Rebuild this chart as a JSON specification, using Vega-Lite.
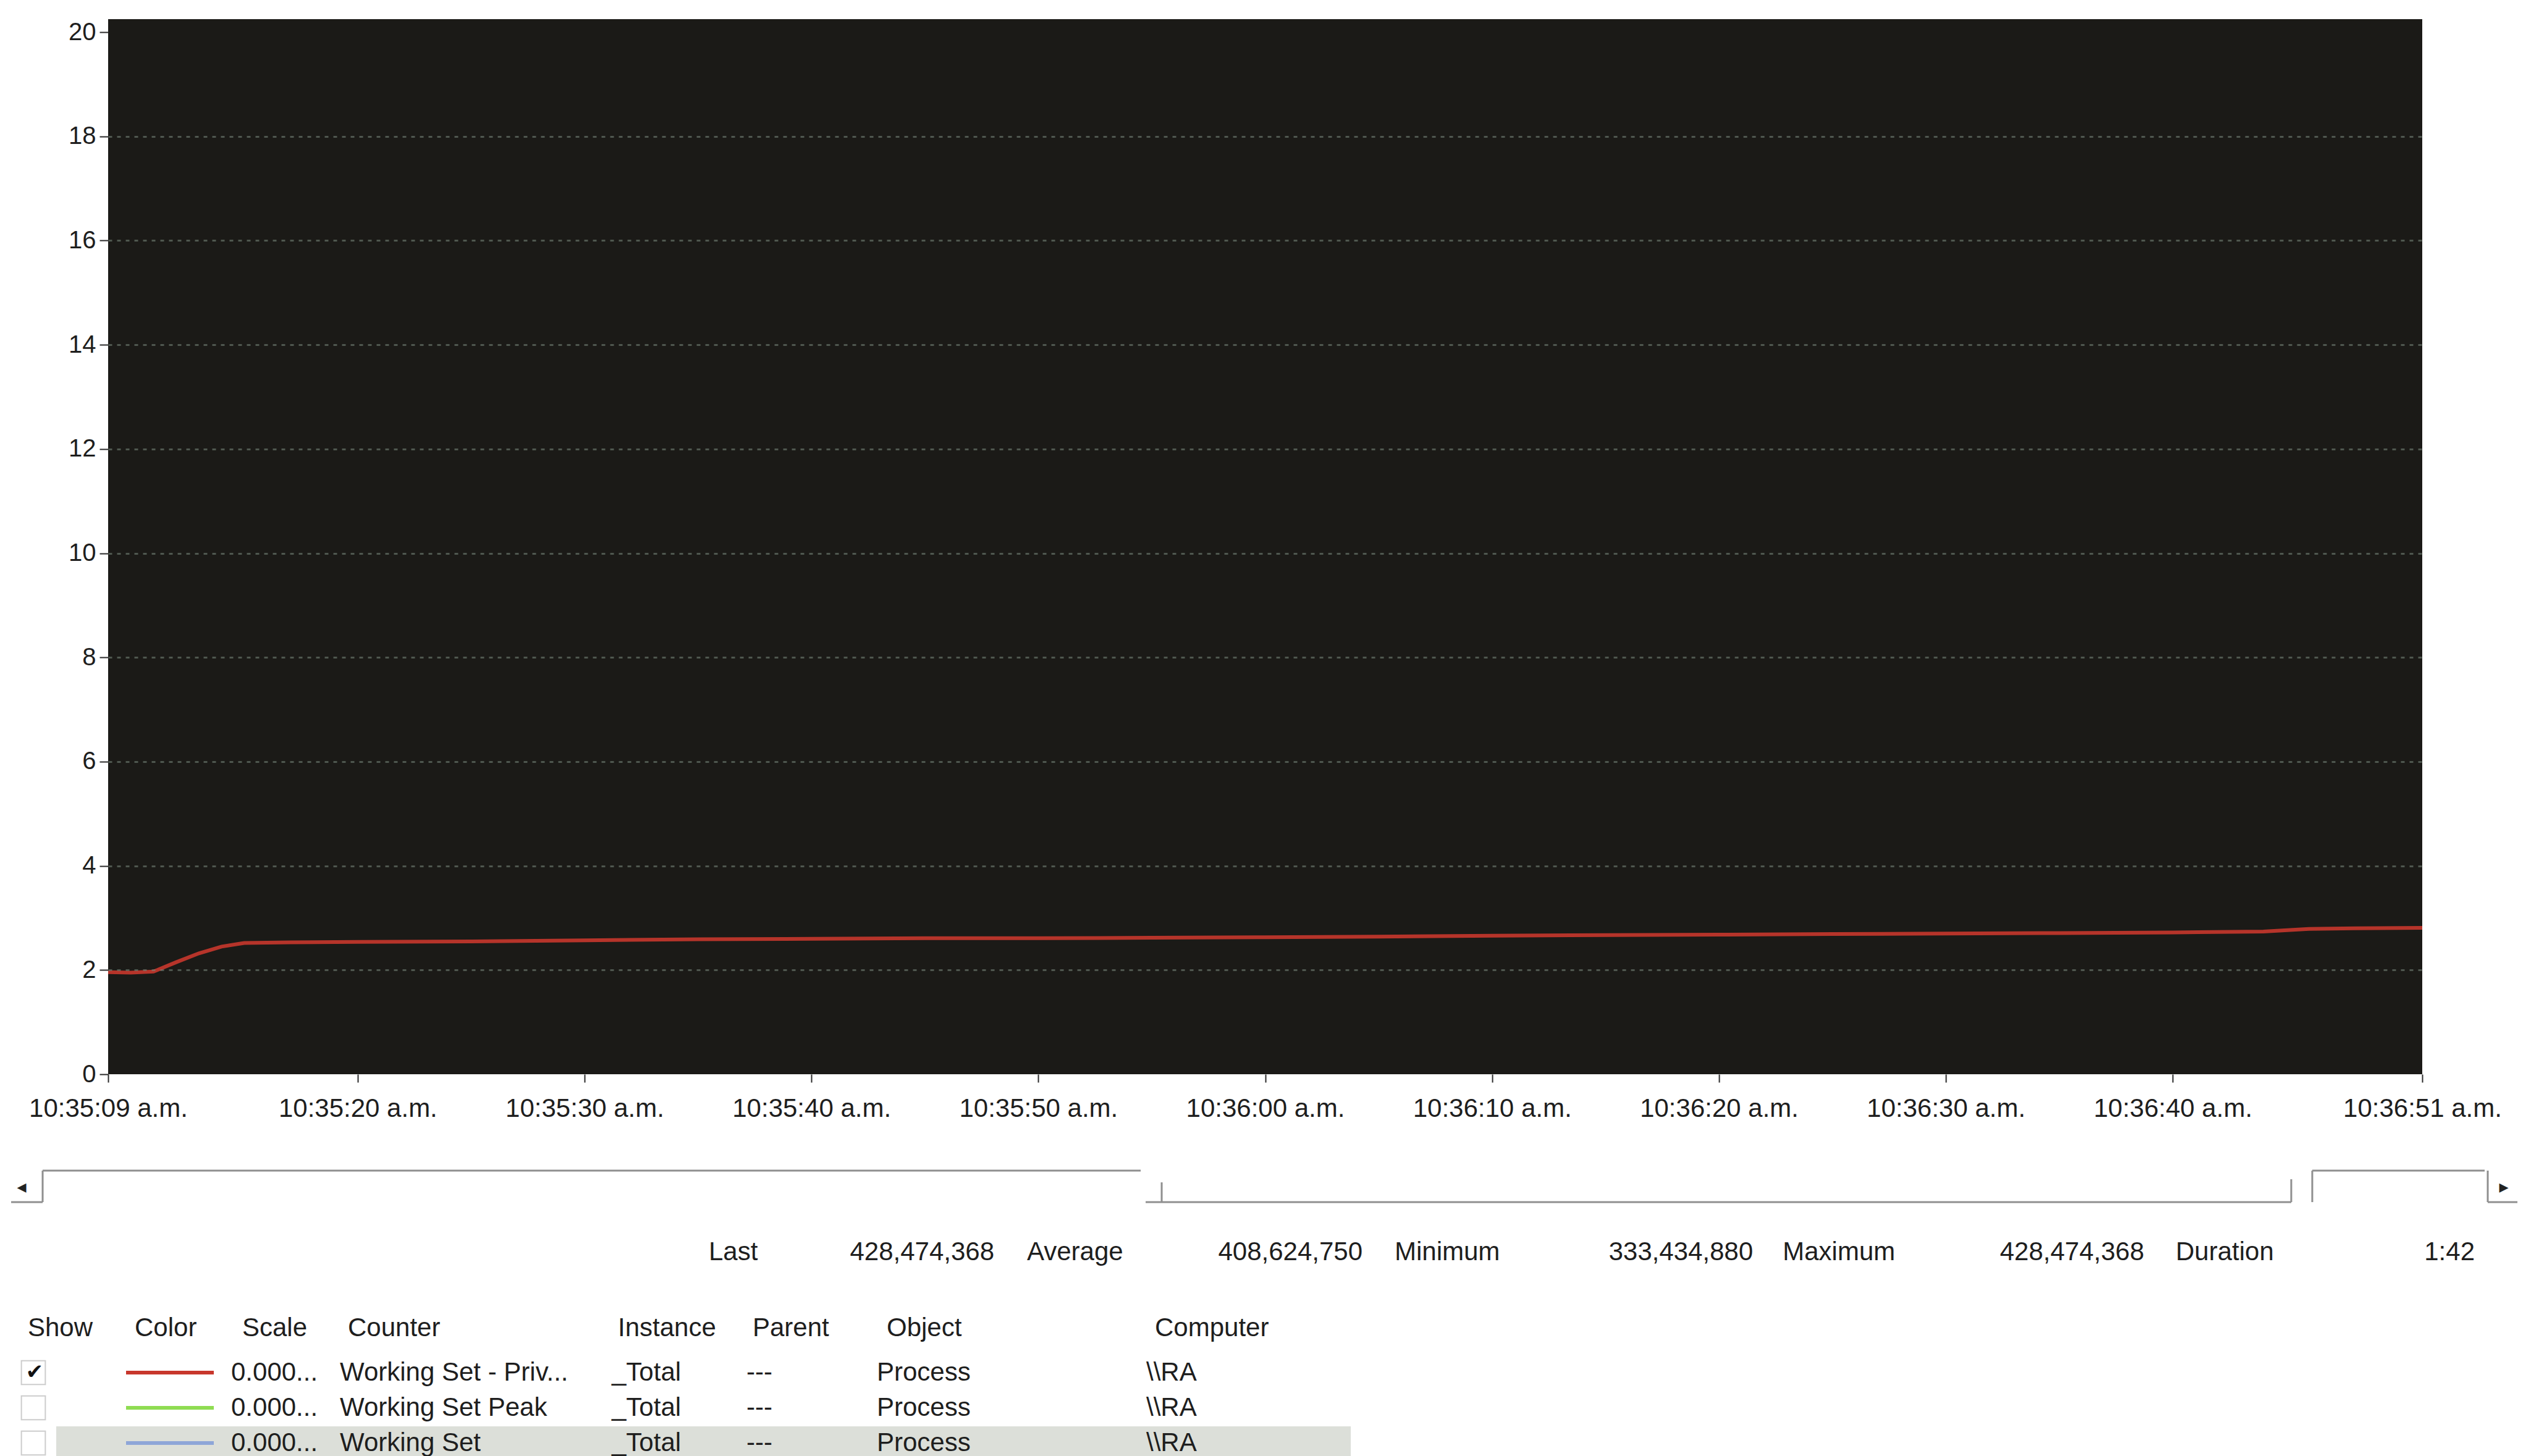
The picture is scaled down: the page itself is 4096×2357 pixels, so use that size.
{
  "$schema": "https://vega.github.io/schema/vega-lite/v6.json",
  "width": 4096,
  "height": 2357,
  "autosize": {"type": "none"},
  "padding": 0,
  "background": "#ffffff",
  "config": {"view": {"stroke": null}},
  "datasets": {
    "series": [
      {"t": "2020-01-01T10:35:09", "v": 1.96},
      {"t": "2020-01-01T10:35:10", "v": 1.95},
      {"t": "2020-01-01T10:35:11", "v": 1.97},
      {"t": "2020-01-01T10:35:12", "v": 2.15},
      {"t": "2020-01-01T10:35:13", "v": 2.32},
      {"t": "2020-01-01T10:35:14", "v": 2.45},
      {"t": "2020-01-01T10:35:15", "v": 2.52},
      {"t": "2020-01-01T10:35:17", "v": 2.53},
      {"t": "2020-01-01T10:35:20", "v": 2.54},
      {"t": "2020-01-01T10:35:25", "v": 2.55},
      {"t": "2020-01-01T10:35:30", "v": 2.57},
      {"t": "2020-01-01T10:35:35", "v": 2.59},
      {"t": "2020-01-01T10:35:40", "v": 2.6},
      {"t": "2020-01-01T10:35:45", "v": 2.61},
      {"t": "2020-01-01T10:35:50", "v": 2.61},
      {"t": "2020-01-01T10:35:55", "v": 2.62},
      {"t": "2020-01-01T10:36:00", "v": 2.63},
      {"t": "2020-01-01T10:36:05", "v": 2.64},
      {"t": "2020-01-01T10:36:10", "v": 2.66},
      {"t": "2020-01-01T10:36:15", "v": 2.67},
      {"t": "2020-01-01T10:36:20", "v": 2.68},
      {"t": "2020-01-01T10:36:25", "v": 2.69},
      {"t": "2020-01-01T10:36:30", "v": 2.7},
      {"t": "2020-01-01T10:36:35", "v": 2.71},
      {"t": "2020-01-01T10:36:40", "v": 2.72},
      {"t": "2020-01-01T10:36:44", "v": 2.74},
      {"t": "2020-01-01T10:36:46", "v": 2.79},
      {"t": "2020-01-01T10:36:48", "v": 2.8},
      {"t": "2020-01-01T10:36:51", "v": 2.81}
    ],
    "stats": [
      {"i": 0, "label": "Last", "value": "428,474,368"},
      {"i": 1, "label": "Average", "value": "408,624,750"},
      {"i": 2, "label": "Minimum", "value": "333,434,880"},
      {"i": 3, "label": "Maximum", "value": "428,474,368"},
      {"i": 4, "label": "Duration", "value": "1:42"}
    ],
    "heads": [
      {"c": 0, "h": "Show"},
      {"c": 1, "h": "Color"},
      {"c": 2, "h": "Scale"},
      {"c": 3, "h": "Counter"},
      {"c": 4, "h": "Instance"},
      {"c": 5, "h": "Parent"},
      {"c": 6, "h": "Object"},
      {"c": 7, "h": "Computer"}
    ],
    "table": [
      {"r": 2, "show": true, "selected": false, "scale": "0.000...", "counter": "Working Set - Priv...", "instance": "_Total", "parent": "---", "object": "Process", "computer": "\\\\RA"},
      {"r": 3, "show": false, "selected": false, "scale": "0.000...", "counter": "Working Set Peak", "instance": "_Total", "parent": "---", "object": "Process", "computer": "\\\\RA"},
      {"r": 4, "show": false, "selected": true, "scale": "0.000...", "counter": "Working Set", "instance": "_Total", "parent": "---", "object": "Process", "computer": "\\\\RA"}
    ],
    "cols": [
      {"key": "scale", "c": 0},
      {"key": "counter", "c": 1},
      {"key": "instance", "c": 2},
      {"key": "parent", "c": 3},
      {"key": "object", "c": 4},
      {"key": "computer", "c": 5}
    ],
    "scroll": [
      {"x1": 0, "x2": 1, "y1": 3, "y2": 3},
      {"x1": 1, "x2": 1, "y1": 0, "y2": 3},
      {"x1": 1, "x2": 2, "y1": 0, "y2": 0},
      {"x1": 4, "x2": 4, "y1": 2, "y2": 3},
      {"x1": 3, "x2": 5, "y1": 3, "y2": 3},
      {"x1": 5, "x2": 5, "y1": 1, "y2": 3},
      {"x1": 6, "x2": 6, "y1": 0, "y2": 3},
      {"x1": 6, "x2": 7, "y1": 0, "y2": 0},
      {"x1": 8, "x2": 8, "y1": 0, "y2": 3},
      {"x1": 8, "x2": 9, "y1": 3, "y2": 3}
    ],
    "arrows": [
      {"k": 0, "a": "◂"},
      {"k": 1, "a": "▸"}
    ]
  },
  "layer": [
    {
      "layer": [
        {
          "data": {"values": [{}]},
          "mark": {"type": "rect", "color": "#1b1a17"},
          "encoding": {
            "x": {"datum": {"year": 2020, "month": 1, "date": 1, "hours": 10, "minutes": 35, "seconds": 9}, "type": "temporal"},
            "x2": {"datum": {"year": 2020, "month": 1, "date": 1, "hours": 10, "minutes": 36, "seconds": 51}},
            "y": {"datum": 0, "type": "quantitative"},
            "y2": {"datum": 20.25}
          }
        },
        {
          "data": {"name": "series"},
          "mark": {"type": "line", "color": "#c8372c", "strokeWidth": 6, "opacity": 0.9},
          "encoding": {
            "x": {
              "field": "t", "type": "temporal",
              "scale": {
                "domain": [
                  {"year": 2020, "month": 1, "date": 1, "hours": 10, "minutes": 35, "seconds": 9},
                  {"year": 2020, "month": 1, "date": 1, "hours": 10, "minutes": 36, "seconds": 51}
                ],
                "range": [175, 3920], "nice": false
              },
              "axis": {
                "values": [
                  {"year": 2020, "month": 1, "date": 1, "hours": 10, "minutes": 35, "seconds": 9},
                  {"year": 2020, "month": 1, "date": 1, "hours": 10, "minutes": 35, "seconds": 20},
                  {"year": 2020, "month": 1, "date": 1, "hours": 10, "minutes": 35, "seconds": 30},
                  {"year": 2020, "month": 1, "date": 1, "hours": 10, "minutes": 35, "seconds": 40},
                  {"year": 2020, "month": 1, "date": 1, "hours": 10, "minutes": 35, "seconds": 50},
                  {"year": 2020, "month": 1, "date": 1, "hours": 10, "minutes": 36, "seconds": 0},
                  {"year": 2020, "month": 1, "date": 1, "hours": 10, "minutes": 36, "seconds": 10},
                  {"year": 2020, "month": 1, "date": 1, "hours": 10, "minutes": 36, "seconds": 20},
                  {"year": 2020, "month": 1, "date": 1, "hours": 10, "minutes": 36, "seconds": 30},
                  {"year": 2020, "month": 1, "date": 1, "hours": 10, "minutes": 36, "seconds": 40},
                  {"year": 2020, "month": 1, "date": 1, "hours": 10, "minutes": 36, "seconds": 51}
                ],
                "offset": -618,
                "grid": false,
                "domain": false,
                "tickSize": 13,
                "tickWidth": 2,
                "tickColor": "#2a2a2a",
                "labelExpr": "timeFormat(datum.value, '%H:%M:%S') + ' a.m.'",
                "labelFont": "Liberation Sans",
                "labelFontSize": 42,
                "labelColor": "#1e1e1e",
                "labelPadding": 22,
                "labelLimit": 2000,
                "labelOverlap": false,
                "labelFlush": false,
                "labelBound": false,
                "title": null,
                "zindex": 1
              }
            },
            "y": {
              "field": "v", "type": "quantitative",
              "scale": {"domain": [0, 20], "range": [1739, 52], "nice": false, "zero": false},
              "axis": {
                "values": [0, 2, 4, 6, 8, 10, 12, 14, 16, 18, 20],
                "format": "d",
                "offset": -175,
                "grid": true,
                "gridColor": "#7a8a7e",
                "gridDash": [6, 8],
                "gridWidth": 3,
                "gridOpacity": {"condition": {"test": "datum.value == 0 || datum.value == 20", "value": 0}, "value": 0.55},
                "domain": false,
                "tickSize": 14,
                "tickWidth": 2,
                "tickColor": "#2a2a2a",
                "labelFont": "Liberation Sans",
                "labelFontSize": 40,
                "labelColor": "#1e1e1e",
                "labelPadding": 6,
                "labelLimit": 2000,
                "title": null,
                "zindex": 1
              }
            }
          }
        }
      ]
    },
    {
      "data": {"name": "table"},
      "transform": [{"filter": "datum.selected"}],
      "mark": {"type": "rule", "color": "#dcdfd9", "strokeWidth": 54, "strokeCap": "butt"},
      "encoding": {
        "x": {"datum": 0, "type": "quantitative", "scale": {"domain": [0, 1], "range": [91, 2186], "nice": false, "zero": false}, "axis": null},
        "x2": {"datum": 1},
        "y": {"field": "r", "type": "quantitative", "scale": {"domain": [0, 1, 2, 3, 4], "range": [2027, 2150, 2222, 2279, 2336], "nice": false, "zero": false}, "axis": null}
      }
    },
    {
      "data": {"name": "scroll"},
      "mark": {"type": "rule", "color": "#8f8f8f", "strokeWidth": 3},
      "encoding": {
        "x": {"field": "x1", "type": "quantitative", "scale": {"domain": [0, 1, 2, 3, 4, 5, 6, 7, 8, 9], "range": [18, 69, 1846, 1854, 1880, 3708, 3742, 4021, 4026, 4074], "nice": false, "zero": false}, "axis": null},
        "x2": {"field": "x2"},
        "y": {"field": "y1", "type": "quantitative", "scale": {"domain": [0, 1, 2, 3], "range": [1895, 1909, 1914, 1946], "nice": false, "zero": false}, "axis": null},
        "y2": {"field": "y2"}
      }
    },
    {
      "data": {"name": "arrows"},
      "mark": {"type": "text", "font": "DejaVu Sans", "fontSize": 30, "color": "#222222", "align": "center", "baseline": "middle"},
      "encoding": {
        "x": {"field": "k", "type": "quantitative", "scale": {"domain": [0, 1], "range": [35, 4052], "nice": false, "zero": false}, "axis": null},
        "y": {"datum": 0, "type": "quantitative", "scale": {"domain": [0, 1], "range": [1922, 1960], "nice": false, "zero": false}, "axis": null},
        "text": {"field": "a"}
      }
    },
    {
      "data": {"name": "stats"},
      "mark": {"type": "text", "font": "Liberation Sans", "fontSize": 42, "color": "#1e1e1e", "align": "left", "baseline": "middle"},
      "encoding": {
        "x": {"field": "i", "type": "quantitative", "scale": {"domain": [0, 1, 2, 3, 4], "range": [1147, 1662, 2257, 2885, 3521], "nice": false, "zero": false}, "axis": null},
        "y": {"datum": 0, "type": "quantitative", "scale": {"domain": [0, 1, 2, 3, 4], "range": [2027, 2150, 2222, 2279, 2336], "nice": false, "zero": false}, "axis": null},
        "text": {"field": "label"}
      }
    },
    {
      "data": {"name": "stats"},
      "mark": {"type": "text", "font": "Liberation Sans", "fontSize": 42, "color": "#1e1e1e", "align": "right", "baseline": "middle"},
      "encoding": {
        "x": {"field": "i", "type": "quantitative", "scale": {"domain": [0, 1, 2, 3, 4], "range": [1609, 2205, 2837, 3470, 4005], "nice": false, "zero": false}, "axis": null},
        "y": {"datum": 0, "type": "quantitative", "scale": {"domain": [0, 1, 2, 3, 4], "range": [2027, 2150, 2222, 2279, 2336], "nice": false, "zero": false}, "axis": null},
        "text": {"field": "value"}
      }
    },
    {
      "data": {"name": "heads"},
      "mark": {"type": "text", "font": "Liberation Sans", "fontSize": 42, "color": "#1e1e1e", "align": "left", "baseline": "middle"},
      "encoding": {
        "x": {"field": "c", "type": "quantitative", "scale": {"domain": [0, 1, 2, 3, 4, 5, 6, 7], "range": [45, 218, 392, 563, 1000, 1218, 1435, 1869], "nice": false, "zero": false}, "axis": null},
        "y": {"datum": 1, "type": "quantitative", "scale": {"domain": [0, 1, 2, 3, 4], "range": [2027, 2150, 2222, 2279, 2336], "nice": false, "zero": false}, "axis": null},
        "text": {"field": "h"}
      }
    },
    {
      "data": {"name": "table"},
      "transform": [
        {"fold": ["scale", "counter", "instance", "parent", "object", "computer"], "as": ["key", "text"]},
        {"lookup": "key", "from": {"data": {"name": "cols"}, "key": "key", "fields": ["c"]}}
      ],
      "mark": {"type": "text", "font": "Liberation Sans", "fontSize": 42, "color": "#1e1e1e", "align": "left", "baseline": "middle"},
      "encoding": {
        "x": {"field": "c", "type": "quantitative", "scale": {"domain": [0, 1, 2, 3, 4, 5], "range": [374, 550, 990, 1208, 1419, 1855], "nice": false, "zero": false}, "axis": null},
        "y": {"field": "r", "type": "quantitative", "scale": {"domain": [0, 1, 2, 3, 4], "range": [2027, 2150, 2222, 2279, 2336], "nice": false, "zero": false}, "axis": null},
        "text": {"field": "text"}
      }
    },
    {
      "data": {"name": "table"},
      "mark": {"type": "rule", "strokeWidth": 6},
      "encoding": {
        "x": {"datum": 0, "type": "quantitative", "scale": {"domain": [0, 1], "range": [204, 346], "nice": false, "zero": false}, "axis": null},
        "x2": {"datum": 1},
        "y": {"field": "r", "type": "quantitative", "scale": {"domain": [0, 1, 2, 3, 4], "range": [2027, 2150, 2222, 2279, 2336], "nice": false, "zero": false}, "axis": null},
        "color": {"field": "counter", "type": "nominal", "scale": {"domain": ["Working Set - Priv...", "Working Set Peak", "Working Set"], "range": ["#c8372c", "#8fdc52", "#8ea6d8"]}, "legend": null}
      }
    },
    {
      "data": {"name": "table"},
      "mark": {"type": "point", "shape": "square", "filled": false, "size": 1500, "stroke": "#b8b8b8", "strokeWidth": 2},
      "encoding": {
        "x": {"datum": 0, "type": "quantitative", "scale": {"domain": [0, 1], "range": [54, 100], "nice": false, "zero": false}, "axis": null},
        "y": {"field": "r", "type": "quantitative", "scale": {"domain": [0, 1, 2, 3, 4], "range": [2027, 2150, 2222, 2279, 2336], "nice": false, "zero": false}, "axis": null}
      }
    },
    {
      "data": {"name": "table"},
      "transform": [{"filter": "datum.show"}],
      "mark": {"type": "text", "font": "DejaVu Sans", "fontSize": 34, "color": "#111111", "align": "center", "baseline": "middle"},
      "encoding": {
        "x": {"datum": 0, "type": "quantitative", "scale": {"domain": [0, 1], "range": [56, 100], "nice": false, "zero": false}, "axis": null},
        "y": {"field": "r", "type": "quantitative", "scale": {"domain": [0, 1, 2, 3, 4], "range": [2027, 2150, 2222, 2279, 2336], "nice": false, "zero": false}, "axis": null},
        "text": {"value": "✔"}
      }
    }
  ],
  "resolve": {
    "scale": {"x": "independent", "y": "independent", "color": "independent"},
    "axis": {"x": "independent", "y": "independent"}
  }
}
